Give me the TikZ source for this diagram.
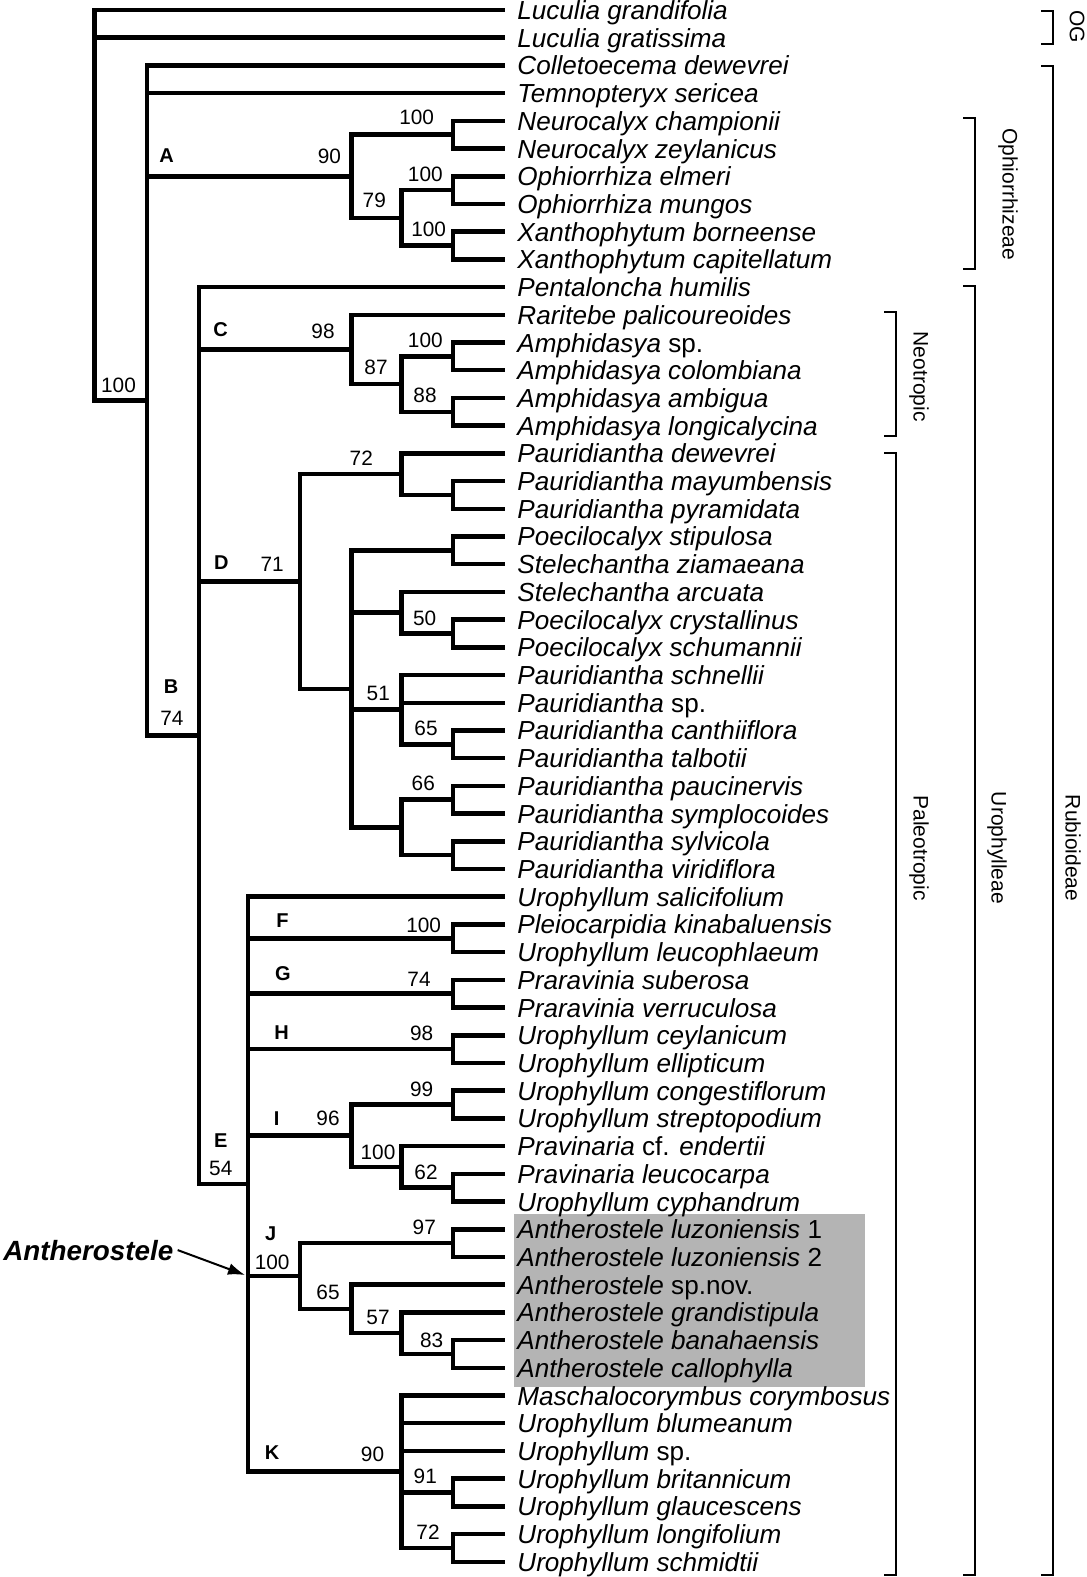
\documentclass[tikz,border=0pt]{standalone}
\usepackage{fontspec}
\setmainfont{Liberation Sans}
\usetikzlibrary{arrows.meta}
\definecolor{boxgray}{RGB}{180,180,180}
\tikzset{
	branch/.style={line width=2.25pt,line join=miter,line cap=butt},
	taxon/.style={anchor=base west,inner sep=0pt,font=\fontsize{13.05}{15}\selectfont\itshape},
	bs/.style={inner sep=0pt,font=\fontsize{10.4}{12}\selectfont},
	clade/.style={inner sep=0pt,font=\fontsize{10}{12}\selectfont\bfseries},
	group/.style={inner sep=0pt,rotate=-90,font=\fontsize{10.5}{12}\selectfont},
	bracket/.style={line width=1pt,line join=miter},
}
\begin{document}
\begin{tikzpicture}[x=0.5pt,y=-0.5pt,>={Latex[length=8.5pt,width=6pt]}]
	\useasboundingbox (0,0) rectangle (1086,1577);
	\fill[boxgray] (514,1214) rectangle (865,1387);
	\path
	(94.5,205.27) coordinate (nRoot)
	(147,400.54) coordinate (nIn)
	(351.5,176.26) coordinate (nA)
	(453,134.70) coordinate (nNeu)
	(401.5,217.83) coordinate (n79)
	(453,190.12) coordinate (nOph)
	(453,245.54) coordinate (nXan)
	(199,735.66) coordinate (nB)
	(351.5,349.45) coordinate (nC)
	(401.5,384.09) coordinate (n87)
	(453,356.38) coordinate (nAm)
	(453,411.80) coordinate (n88)
	(300,581.52) coordinate (nD)
	(401.5,474.14) coordinate (n72)
	(453,494.93) coordinate (nMay)
	(351.5,688.90) coordinate (nPal)
	(453,550.35) coordinate (nPoe)
	(401.5,612.69) coordinate (nSte)
	(453,633.48) coordinate (n50)
	(401.5,709.68) coordinate (n51)
	(453,744.32) coordinate (n65)
	(401.5,827.45) coordinate (n66)
	(453,799.74) coordinate (nPau)
	(453,855.16) coordinate (nSyl)
	(248,1184.22) coordinate (nE)
	(453,938.29) coordinate (nF)
	(453,993.71) coordinate (nG)
	(453,1049.13) coordinate (nH)
	(351.5,1135.73) coordinate (nI)
	(453,1104.55) coordinate (n99)
	(401.5,1166.90) coordinate (n100)
	(453,1187.68) coordinate (n62)
	(300,1276.01) coordinate (nJ)
	(453,1243.10) coordinate (n97)
	(351.5,1308.91) coordinate (nJ65)
	(401.5,1333.16) coordinate (n57)
	(453,1353.94) coordinate (n83)
	(401.5,1471.71) coordinate (nK)
	(453,1492.49) coordinate (n91)
	(453,1547.91) coordinate (nK72)
	(245,1275) coordinate (antTip)
	;
	\foreach \n [count=\i from 0] in {Luculia grandifolia,Luculia gratissima,Colletoecema dewevrei,Temnopteryx sericea,
		Neurocalyx championii,Neurocalyx zeylanicus,Ophiorrhiza elmeri,Ophiorrhiza mungos,Xanthophytum borneense,
		Xanthophytum capitellatum,Pentaloncha humilis,Raritebe palicoureoides,{Amphidasya \textup{sp.}},
		Amphidasya colombiana,Amphidasya ambigua,Amphidasya longicalycina,Pauridiantha dewevrei,
		Pauridiantha mayumbensis,Pauridiantha pyramidata,Poecilocalyx stipulosa,Stelechantha ziamaeana,
		Stelechantha arcuata,Poecilocalyx crystallinus,Poecilocalyx schumannii,Pauridiantha schnellii,
		{Pauridiantha \textup{sp.}},Pauridiantha canthiiflora,Pauridiantha talbotii,Pauridiantha paucinervis,
		Pauridiantha symplocoides,Pauridiantha sylvicola,Pauridiantha viridiflora,Urophyllum salicifolium,
		Pleiocarpidia kinabaluensis,Urophyllum leucophlaeum,Praravinia suberosa,Praravinia verruculosa,
		Urophyllum ceylanicum,Urophyllum ellipticum,Urophyllum congestiflorum,Urophyllum streptopodium,
		{Pravinaria \textup{cf.} endertii},Pravinaria leucocarpa,Urophyllum cyphandrum,
		{Antherostele luzoniensis \textup{1}},{Antherostele luzoniensis \textup{2}},{Antherostele \textup{sp.nov.}},
		Antherostele grandistipula,Antherostele banahaensis,Antherostele callophylla,Maschalocorymbus corymbosus,
		Urophyllum blumeanum,{Urophyllum \textup{sp.}},Urophyllum britannicum,Urophyllum glaucescens,
		Urophyllum longifolium,Urophyllum schmidtii}{
		\path (505,{10+27.71*\i}) coordinate (l\i);
		\node[taxon] (t\i) at (517,{19.5+27.71*\i}) {\n};
	}
	\foreach \p/\c in {nRoot/l0,nRoot/l1,nRoot/nIn,nIn/l2,nIn/l3,nIn/nA,nIn/nB,
		nA/nNeu,nA/n79,nNeu/l4,nNeu/l5,n79/nOph,n79/nXan,nOph/l6,nOph/l7,nXan/l8,nXan/l9,
		nB/l10,nB/nC,nB/nD,nB/nE,nC/l11,nC/n87,n87/nAm,n87/n88,nAm/l12,nAm/l13,n88/l14,n88/l15,
		nD/n72,nD/nPal,n72/l16,n72/nMay,nMay/l17,nMay/l18,
		nPal/nPoe,nPal/nSte,nPal/n51,nPal/n66,nPoe/l19,nPoe/l20,nSte/l21,nSte/n50,n50/l22,n50/l23,
		n51/l24,n51/l25,n51/n65,n65/l26,n65/l27,n66/nPau,n66/nSyl,nPau/l28,nPau/l29,nSyl/l30,nSyl/l31,
		nE/l32,nE/nF,nE/nG,nE/nH,nE/nI,nE/nJ,nE/nK,nF/l33,nF/l34,nG/l35,nG/l36,nH/l37,nH/l38,
		nI/n99,nI/n100,n99/l39,n99/l40,n100/l41,n100/n62,n62/l42,n62/l43,
		nJ/n97,nJ/nJ65,n97/l44,n97/l45,nJ65/l46,nJ65/n57,n57/l47,n57/n83,n83/l48,n83/l49,
		nK/l50,nK/l51,nK/l52,nK/n91,nK/nK72,n91/l53,n91/l54,nK72/l55,nK72/l56}
		\draw[branch] (\p) |- (\c);
	% bootstrap values
	\foreach \x/\y/\v [count=\k] in {118.5/385.5/100,329.4/156.3/90,416.7/117.5/100,374.3/200/79,425.3/174.7/100,428.7/229.5/100,
		323/331/98,425.3/340.3/100,376/367.8/87,425/395.3/88,
		172/718/74,272.2/564.7/71,361.3/457.8/72,424.7/618.8/50,378.3/693.3/51,426/728.2/65,423.3/783.2/66,
		220.8/1168.8/54,423.7/925.3/100,419/979.7/74,421.7/1033.7/98,421.7/1089.7/99,328/1118.8/96,378/1152.2/100,426/1172/62,
		272.2/1262/100,424.3/1227.8/97,328/1292/65,378/1317.2/57,431.7/1340/83,
		372.5/1454.8/90,425.3/1476.7/91,428/1532.2/72}
		\node[bs] (bs\k) at (\x,\y) {\v};
	\foreach \x/\y/\t in {166.7/156/A,171/687/B,220.5/329.5/C,221.3/563/D,220.7/1140.7/E,282.5/921/F,
		283/973.3/G,281.7/1033/H,276.7/1118.7/I,270.8/1234/J,272.2/1452.7/K}
		\node[clade] (cl\t) at (\x,\y) {\t};
	\node[anchor=base,inner sep=2pt,font=\fontsize{13.9}{16}\selectfont\bfseries\itshape] (anth) at (88.3,1260) {Antherostele};
	\draw[->,line width=1pt] (anth.east) -- (antTip);
	% groups
	\foreach \x/\a/\b in {1053/10.7/44.3,1053/65.7/1574.5,975/118.3/269.3,975/286/1574.5,896/312.3/436,896/453.3/1574.5}
		\draw[bracket] (\x-12,\a) -- (\x,\a) -- (\x,\b) -- (\x-12,\b);
	\node[group] (gOG) at (1077,26.7) {OG};
	\node[group] (gRub) at (1073,848) {Rubioideae};
	\node[group] (gOph) at (1008,194.2) {Ophiorrhizeae};
	\node[group] (gUro) at (997,848) {Urophylleae};
	\node[group] (gNeo) at (919,376.7) {Neotropic};
	\node[group] (gPal) at (919,848) {Paleotropic};
\end{tikzpicture}
\end{document}
